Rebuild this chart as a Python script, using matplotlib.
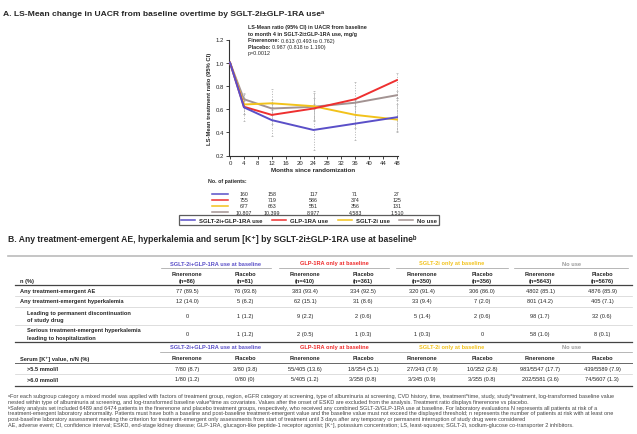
import numpy as np
import matplotlib.pyplot as plt
import matplotlib.transforms as mtransforms
from matplotlib.lines import Line2D

plt.rcParams['font.family'] = ['Liberation Sans', 'DejaVu Sans']

# ---- data: panel A ----
months = [0, 4, 12, 24, 36, 48]
ci_months = [4, 12, 24, 36, 48]
groups = ['SGLT-2i+GLP-1RA use', 'GLP-1RA use', 'SGLT-2i use', 'No use']
colors = ['#5a4fc8', '#ee3030', '#f2c21b', '#a39392']

ratio_combo = [1.0, 0.615, 0.505, 0.42, 0.475, 0.53]
ratio_glp = [1.0, 0.62, 0.55, 0.605, 0.685, 0.85]
ratio_sglt = [1.0, 0.64, 0.65, 0.625, 0.55, 0.51]
ratio_none = [1.0, 0.685, 0.605, 0.62, 0.655, 0.72]

lo_combo = [0.50, 0.37, 0.25, 0.33, 0.40]
hi_combo = [0.74, 0.68, 0.70, 0.69, 0.70]
lo_glp = [0.56, 0.47, 0.50, 0.56, 0.70]
hi_glp = [0.69, 0.64, 0.74, 0.83, 0.91]
lo_sglt = [0.56, 0.55, 0.51, 0.44, 0.41]
hi_sglt = [0.73, 0.77, 0.76, 0.70, 0.64]
lo_none = [0.67, 0.59, 0.60, 0.63, 0.68]
hi_none = [0.70, 0.62, 0.64, 0.68, 0.76]

risk_months = [4, 12, 24, 36, 48]
risk_combo = ['160', '158', '117', '71', '27']
risk_glp = ['755', '719', '586', '374', '125']
risk_sglt = ['677', '663', '551', '356', '131']
risk_none = ['10,807', '10,399', '8,977', '4,583', '1,510']

# ---- data: panel B ----
group_hdr = ['SGLT-2i+GLP-1RA use at baseline', 'GLP-1RA only at baseline',
             'SGLT-2i only at baseline', 'No use']
hdr_colors = ['#5a4fc8', '#ee2a2a', '#f2c21b', '#9a9a9a']
fin_n = [86, 410, 350, 5643]
pbo_n = [81, 361, 356, 5676]
ae_any = ['77 (89.5)', '76 (93.8)', '383 (93.4)', '334 (92.5)', '320 (91.4)', '306 (86.0)', '4802 (85.1)', '4876 (85.9)']
hyperk = ['12 (14.0)', '5 (6.2)', '62 (15.1)', '31 (8.6)', '33 (9.4)', '7 (2.0)', '801 (14.2)', '405 (7.1)']
discont = ['0', '1 (1.2)', '9 (2.2)', '2 (0.6)', '5 (1.4)', '2 (0.6)', '98 (1.7)', '32 (0.6)']
hosp = ['0', '1 (1.2)', '2 (0.5)', '1 (0.3)', '1 (0.3)', '0', '58 (1.0)', '8 (0.1)']
k55 = ['7/80 (8.7)', '3/80 (3.8)', '55/405 (13.6)', '18/354 (5.1)', '27/343 (7.9)', '10/352 (2.8)', '983/5547 (17.7)', '439/5589 (7.9)']
k60 = ['1/80 (1.2)', '0/80 (0)', '5/405 (1.2)', '3/358 (0.8)', '3/345 (0.9)', '3/355 (0.8)', '202/5581 (3.6)', '74/5607 (1.3)']

footnotes = [
    'ᵃFor each subgroup category a mixed model was applied with factors of treatment group, region, eGFR category at screening, type of albuminuria at screening, CVD history, time, treatment*time, study, study*treatment, log-transformed baseline value',
    'nested within type of albuminuria at screening, and log-transformed baseline value*time as covariates. Values after the onset of ESKD are excluded from the analysis. Treatment ratio displays finerenone vs placebo.',
    'ᵇSafety analysis set included 6489 and 6474 patients in the finerenone and placebo treatment groups, respectively, who received any combined SGLT-2i/GLP-1RA use at baseline. For laboratory evaluations N represents all patients at risk of a',
    'treatment-emergent laboratory abnormality. Patients must have both a baseline and post-baseline treatment-emergent value and the baseline value must not exceed the displayed threshold; n represents the number of patients at risk with at least one',
    'post-baseline laboratory assessment meeting the criterion for treatment-emergent only assessments from start of treatment until 3 days after any temporary or permanent interruption of study drug were considered',
    'AE, adverse event; CI, confidence interval; ESKD, end-stage kidney disease; GLP-1RA, glucagon-like peptide-1 receptor agonist; [K⁺], potassium concentration; LS, least-squares; SGLT-2i, sodium-glucose co-transporter 2 inhibitors.',
]

W, H = 637, 435
fig = plt.figure(figsize=(W / 100, H / 100), dpi=100)
renderer = fig.canvas.get_renderer()
TXT = '#262626'


def fx(x):
    return x / W


def fy(y):
    return 1 - y / H


def ft(x, y, s, **kw):
    kw.setdefault('color', TXT)
    kw.setdefault('va', 'center')
    return fig.text(fx(x), fy(y), s, **kw)


def hline(x0, x1, y, color='#555555', lw=0.8):
    fig.add_artist(Line2D([fx(x0), fx(x1)], [fy(y), fy(y)], color=color, lw=lw))


# ---- panel A ----
ft(3, 15, 'A. LS-Mean change in UACR from baseline overtime by SGLT-2i±GLP-1RA useᵃ',
   fontsize=6.1, fontweight='bold')

ax = fig.add_axes([fx(229), fy(156.5), (398 - 229) / W, 116 / H])
series = [(ratio_combo, lo_combo, hi_combo), (ratio_glp, lo_glp, hi_glp),
          (ratio_sglt, lo_sglt, hi_sglt), (ratio_none, lo_none, hi_none)]
for (vals, lo, hi) in series:
    ax.vlines(ci_months, lo, hi, colors='#b0b0b0', linestyles=':', lw=0.7, zorder=1)
    ax.plot(ci_months, lo, ls='none', marker='_', ms=2, color='#b0b0b0', mew=0.5)
    ax.plot(ci_months, hi, ls='none', marker='_', ms=2, color='#b0b0b0', mew=0.5)
for (vals, lo, hi), c in zip(series[::-1], colors[::-1]):
    ax.plot(months, vals, color=c, lw=1.4, zorder=3)

ax.set_xlim(-0.3, 48.3)
ax.set_ylim(0.2, 1.2)
ax.set_xticks(range(0, 49, 4))
ax.set_yticks([0.2, 0.4, 0.6, 0.8, 1.0, 1.2])
ax.set_yticklabels(['0.2', '0.4', '0.6', '0.8', '1.0', '1.2'])
ax.tick_params(labelsize=4.3, length=2, width=0.6, pad=1.5, colors=TXT)
for s in ['top', 'right']:
    ax.spines[s].set_visible(False)
for s in ['left', 'bottom']:
    ax.spines[s].set_linewidth(0.8)
    ax.spines[s].set_color('#333333')
ax.set_xlabel('Months since randomization', fontsize=4.5, fontweight='bold', labelpad=1.5, color=TXT)
ax.set_ylabel('LS-Mean treatment ratio (95% CI)', fontsize=4.2, fontweight='bold', labelpad=3, color=TXT)

AFS = 3.9
ann = ['LS-Mean ratio (95% CI) in UACR from baseline',
       'to month 4 in SGLT-2i±GLP-1RA use, mg/g']
for i, s in enumerate(ann):
    ft(248, 28 + i * 6.5, s, fontsize=AFS, fontweight='bold')
for y, lab, val in [(41, 'Finerenone: ', '0.613 (0.493 to 0.762)'),
                    (47.5, 'Placebo: ', '0.987 (0.818 to 1.190)')]:
    t = ft(248, y, lab, fontsize=AFS, fontweight='bold')
    w = t.get_window_extent(renderer).width
    ft(248 + w, y, val, fontsize=AFS)
ft(248, 54, 'p=0.0012', fontsize=AFS)

# number of patients
ft(208, 182, 'No. of patients:', fontsize=3.8, fontweight='bold')
trans = mtransforms.blended_transform_factory(ax.transData, fig.transFigure)
risk_rows = [risk_combo, risk_glp, risk_sglt, risk_none]
for i, (row, c) in enumerate(zip(risk_rows, colors)):
    y = 195 + i * 6
    fig.add_artist(Line2D([fx(212), fx(228)], [fy(y), fy(y)], color=c, lw=1.1))
    for m, v in zip(risk_months, row):
        fig.text(m, fy(y), v, transform=trans, fontsize=3.8, ha='center', va='center', color=TXT)

handles = [Line2D([], [], color=c, lw=1.1) for c in colors]
leg = fig.legend(handles, groups, loc='center', bbox_to_anchor=(fx(309), fy(221)), ncol=4,
                 fontsize=4.3, frameon=True, fancybox=False, handlelength=2.4,
                 handletextpad=0.6, columnspacing=1.6, borderpad=0.35)
leg.get_frame().set_edgecolor('#333333')
leg.get_frame().set_linewidth(0.9)
for t in leg.get_texts():
    t.set_fontweight('bold')
    t.set_color(TXT)

# ---- panel B ----
ft(8, 240, 'B. Any treatment-emergent AE, hyperkalemia and serum [K⁺] by SGLT-2i±GLP-1RA use at baselineᵇ',
   fontsize=6.2, fontweight='bold')
hline(8, 632, 256.5, color='#bbbbbb', lw=1.2)

col_x = [187, 245, 305, 363, 422, 482, 540, 602]
FS = 4.1

# top block header
for g in range(4):
    xc = (col_x[2 * g] + col_x[2 * g + 1]) / 2
    ft(xc, 264, group_hdr[g], fontsize=FS, fontweight='bold', color=hdr_colors[g], ha='center')
    hline(col_x[2 * g] - 26, col_x[2 * g + 1] + 26, 269, color='#9a9a9a', lw=0.5)
    ft(col_x[2 * g], 275, 'Finerenone', fontsize=FS, fontweight='bold', ha='center')
    ft(col_x[2 * g], 281, '(n=%d)' % fin_n[g], fontsize=FS, fontweight='bold', ha='center')
    ft(col_x[2 * g + 1], 275, 'Placebo', fontsize=FS, fontweight='bold', ha='center')
    ft(col_x[2 * g + 1], 281, '(n=%d)' % pbo_n[g], fontsize=FS, fontweight='bold', ha='center')
ft(20, 281, 'n (%)', fontsize=FS, fontweight='bold')
hline(15, 632, 285.5, color='#444444', lw=0.9)

rows = [(['Any treatment-emergent AE'], 20, 292, ae_any),
        (['Any treatment-emergent hyperkalemia'], 20, 302, hyperk),
        (['Leading to permanent discontinuation', 'of study drug'], 27, 317, discont),
        (['Serious treatment-emergent hyperkalemia', 'leading to hospitalization'], 27, 334.5, hosp)]
for labels, xl, y, vals in rows:
    if len(labels) == 1:
        ft(xl, y, labels[0], fontsize=FS, fontweight='bold')
    else:
        ft(xl, y - 3.6, labels[0], fontsize=FS, fontweight='bold')
        ft(xl, y + 3.6, labels[1], fontsize=FS, fontweight='bold')
    for x, v in zip(col_x, vals):
        ft(x, y, v, fontsize=FS, ha='center')
for y in [297, 307.5, 326]:
    hline(15, 632, y, color='#d0d0d0', lw=0.5)
hline(15, 632, 343, color='#444444', lw=0.9)

# serum K block
for g in range(4):
    xc = (col_x[2 * g] + col_x[2 * g + 1]) / 2
    ft(xc, 347.5, group_hdr[g], fontsize=FS, fontweight='bold', color=hdr_colors[g], ha='center')
    ft(col_x[2 * g], 359, 'Finerenone', fontsize=FS, fontweight='bold', ha='center')
    ft(col_x[2 * g + 1], 359, 'Placebo', fontsize=FS, fontweight='bold', ha='center')
hline(160, 632, 352.5, color='#9a9a9a', lw=0.5)
ft(20, 359, 'Serum [K⁺] value, n/N (%)', fontsize=FS, fontweight='bold')
hline(15, 632, 364, color='#666666', lw=0.7)
for lab, y, vals in [('>5.5 mmol/l', 369.5, k55), ('>6.0 mmol/l', 380, k60)]:
    ft(27, y, lab, fontsize=FS, fontweight='bold')
    for x, v in zip(col_x, vals):
        ft(x, y, v, fontsize=FS, ha='center')
hline(15, 632, 374.5, color='#d0d0d0', lw=0.5)
hline(15, 632, 386.5, color='#444444', lw=0.9)

for i, s in enumerate(footnotes):
    ft(8, 396.5 + i * 5.8, s, fontsize=3.95, color='#444444')

fig.savefig('out.png', dpi=100)
